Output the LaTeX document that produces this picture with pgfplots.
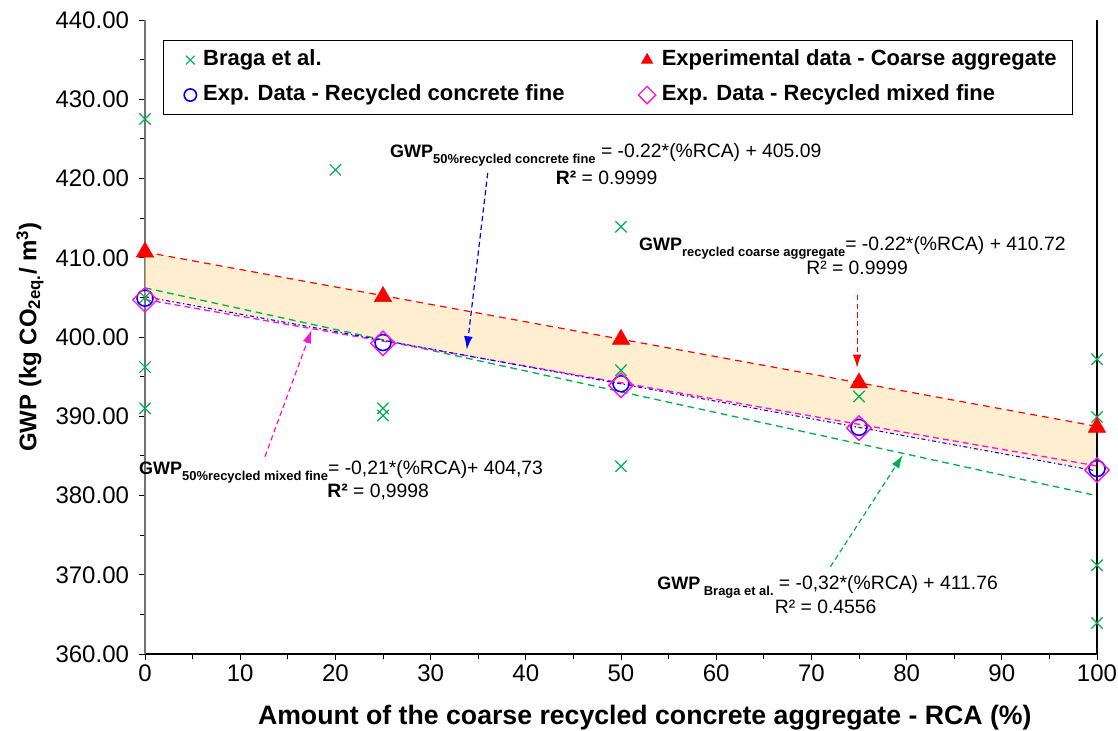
\documentclass[border=0pt]{standalone}
\usepackage{fontspec}
\setmainfont{Liberation Sans}
\usepackage{pgfplots}
\pgfplotsset{compat=1.18}
\usetikzlibrary{arrows.meta}

\definecolor{bragagreen}{RGB}{0,176,80}
\definecolor{mixpink}{RGB}{255,20,210}
\definecolor{bandfill}{RGB}{255,222,160}

% GWP with a bold subscript, as used in the regression labels
\newcommand{\gwp}[1]{{\bfseries\fontsize{13.5}{15}\selectfont GWP}\raisebox{-0.32em}{\bfseries\fontsize{9.7}{11}\selectfont #1}}
\newcommand{\annfont}{\fontsize{14.5}{17}\selectfont}

\begin{document}
\begin{tikzpicture}
\path[use as bounding box] (-108.75pt,-57.75pt) rectangle (729.75pt,490.5pt);
\begin{axis}[
  at={(0pt,0pt)}, anchor=south west,
  scale only axis, width=714pt, height=475.5pt,
  xmin=0, xmax=100, ymin=360, ymax=440,
  xtick={0,10,...,100}, minor xtick={5,15,...,95},
  ytick={360,370,...,440}, minor ytick={365,375,...,435},
  axis x line*=bottom, axis y line*=left,
  x axis line style={black, line width=0.8pt},
  y axis line style={black!55, line width=0.8pt},
  tick align=outside,
  major tick length=4.5pt, minor tick length=4pt,
  every tick/.style={black, line width=0.6pt},
  clip=false,
  /pgf/number format/assume math mode=true,
  tick label style={font=\fontsize{18}{20}\selectfont},
  yticklabel style={/pgf/number format/.cd, fixed, fixed zerofill, precision=2, 1000 sep={}, /tikz/.cd, xshift=-4pt},
  xticklabel style={/pgf/number format/.cd, fixed, precision=0},
  xlabel={Amount of the coarse recycled concrete aggregate - RCA (\%)},
  ylabel={GWP (kg CO\textsubscript{2eq.}/ m\textsuperscript{3})},
  xlabel style={at={(axis description cs:0.525,-0.101)}, anchor=center, font=\bfseries\fontsize{20}{22}\selectfont},
  ylabel style={at={(axis description cs:-0.1208,0.5)}, anchor=center, rotate=0, font=\bfseries\fontsize{18}{20}\selectfont},
  legend columns=2,
  legend cell align=left,
  legend style={
    at={(axis description cs:0.0189,0.9685)}, anchor=north west,
    draw=black, line width=0.8pt, fill=white,
    inner xsep=15pt, inner ysep=4.9pt,
    row sep=6.75pt, column sep=0pt,
    font=\bfseries\fontsize{16.5}{19}\selectfont,
    nodes={inner xsep=4.5pt, inner ysep=2pt, text height=12pt, text depth=3.5pt},
  },
  legend image code/.code={\path (0pt,0pt) (9pt,0pt); \draw[#1, mark size=4.6pt] plot coordinates {(4.5pt,0pt)};},
]

% Braga et al. literature values
\addplot[only marks, mark=x, mark size=6pt, draw=bragagreen, line width=0.9pt] coordinates {
  (0,427.5) (0,405.0) (0,396.2) (0,391.0)
  (20,421.1)
  (25,391.0) (25,390.1)
  (50,413.9) (50,395.8) (50,383.7)
  (75,392.5)
  (100,397.2) (100,389.9) (100,371.2) (100,363.9)
};
\addlegendentry{\makebox[322pt][l]{Braga et al.}}

% band between the coarse aggregate fit and the recycled concrete fine fit
\addplot[draw=none, fill=bandfill, fill opacity=0.5, forget plot] coordinates {
  (0,410.72) (100,388.72) (100,383.09) (0,405.09)
} -- cycle;

% regression lines
\addplot[forget plot, bragagreen, line width=1pt, dash pattern=on 5pt off 3.5pt] coordinates {(0,406.2) (99.5,380.1)};
\addplot[forget plot, red, line width=0.9pt, dash pattern=on 5pt off 4pt] coordinates {(0,410.72) (100,388.72)};
\addplot[forget plot, mixpink, line width=1pt, dash pattern=on 4.5pt off 3pt] coordinates {(0,404.73) (100,383.73)};
\addplot[forget plot, blue, line width=0.8pt, dash pattern=on 3pt off 2pt on 1pt off 2pt] coordinates {(0,405.09) (100,383.09)};

% experimental data
\addplot[only marks, mark=triangle*, mark size=7.5pt, color=red] coordinates {
  (0,410.72) (25,405.1) (50,399.7) (75,394.2) (100,388.6)
};
\addlegendentry{\makebox[288.75pt][l]{Experimental data - Coarse aggregate}}

\addplot[only marks, mark=o, mark size=6pt, draw=blue, line width=1.2pt] coordinates {
  (0,404.9) (25,399.3) (50,394.1) (75,388.6) (100,383.4)
};
\addlegendentry{\makebox[322pt][l]{Exp. Data - Recycled concrete fine}}

\addplot[only marks, mark=square, mark size=6.5pt, mark options={rotate=45}, draw=mixpink, line width=1pt] coordinates {
  (0,404.7) (25,399.2) (50,393.9) (75,388.5) (100,383.2)
};
\addlegendentry{Exp. Data - Recycled mixed fine}

% right frame line
\draw[black, line width=0.8pt] (axis cs:100,360) -- (axis cs:100,440);

% regression labels and their pointers
\draw[blue, line width=0.9pt, dash pattern=on 4pt off 2.5pt, -{Latex[length=10pt,width=6.5pt]}] (axis cs:36.0,420.7) -- (axis cs:33.8,398.4);
\draw[red, line width=0.9pt, dash pattern=on 4pt off 2.5pt, -{Latex[length=10pt,width=6.5pt]}] (axis cs:74.8,405.3) -- (axis cs:74.8,396.1);
\draw[mixpink, line width=0.9pt, dash pattern=on 4pt off 2.5pt, -{Latex[length=10pt,width=6.5pt]}] (axis cs:12.6,384.9) -- (axis cs:17.5,400.9);
\draw[bragagreen, line width=0.9pt, dash pattern=on 4pt off 2.5pt, -{Latex[length=10pt,width=6.5pt]}] (axis cs:72.0,371.0) -- (axis cs:79.6,385.1);

\node[anchor=center, font=\annfont] at (axis cs:48.4,422.97) {\gwp{50\%recycled concrete fine} = -0.22*(\%RCA) + 405.09};
\node[anchor=center, font=\annfont] at (axis cs:48.5,420.06) {\textbf{R²} = 0.9999};

\node[anchor=center, font=\annfont] at (axis cs:74.3,411.23) {\gwp{recycled coarse aggregate}= -0.22*(\%RCA) + 410.72};
\node[anchor=center, font=\annfont] at (axis cs:74.8,408.71) {R² = 0.9999};

\node[anchor=center, font=\annfont] at (axis cs:20.6,382.97) {\gwp{50\%recycled mixed fine}= -0,21*(\%RCA)+ 404,73};
\node[anchor=center, font=\annfont] at (axis cs:24.5,380.44) {\textbf{R²} = 0,9998};

\node[anchor=center, font=\annfont] at (axis cs:71.7,368.45) {\gwp{\ Braga et al.} = -0,32*(\%RCA) + 411.76};
\node[anchor=center, font=\annfont] at (axis cs:71.5,365.93) {R² = 0.4556};

\end{axis}
\end{tikzpicture}
\end{document}
